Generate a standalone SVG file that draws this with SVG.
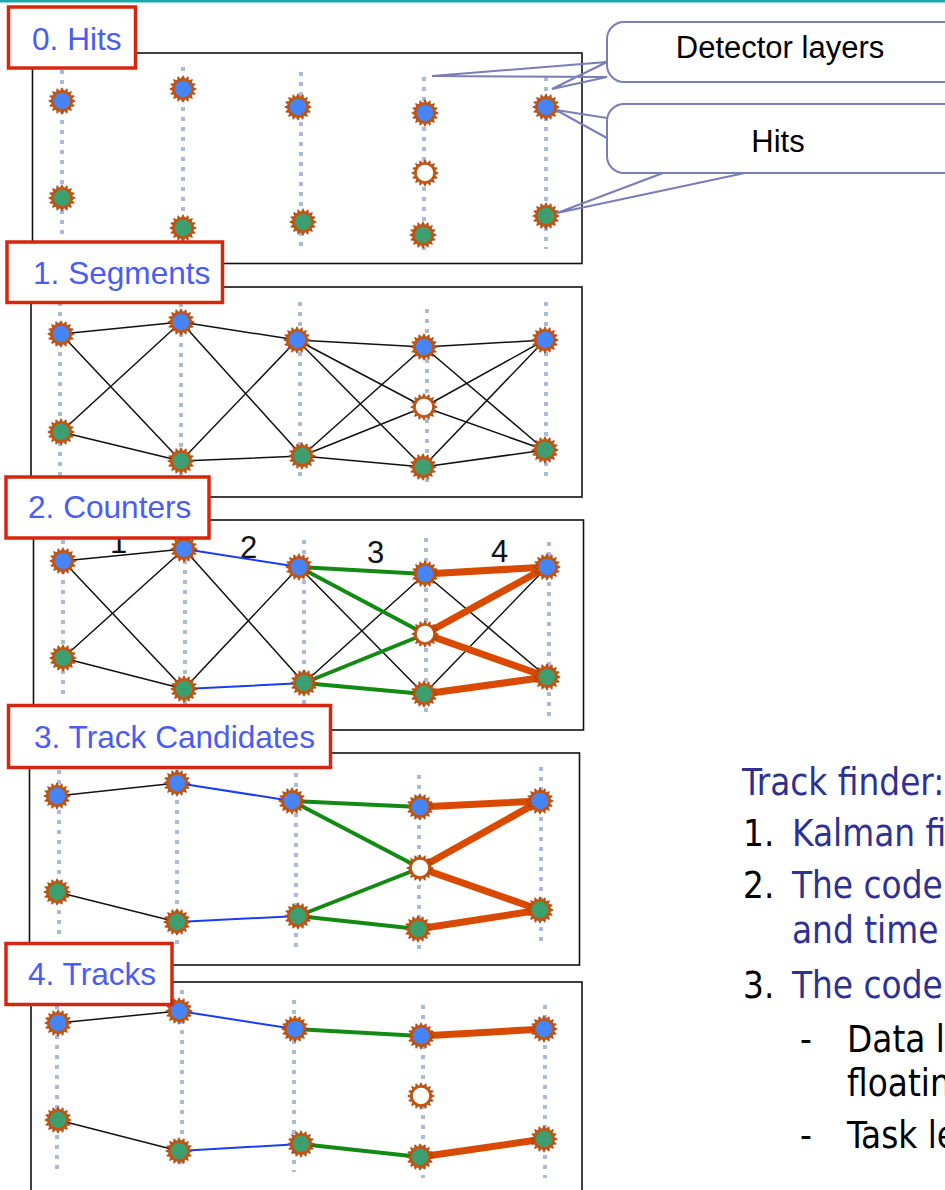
<svg xmlns="http://www.w3.org/2000/svg" xmlns:xlink="http://www.w3.org/1999/xlink" width="945" height="1190" viewBox="0 0 945 1190">
<style>
.frame{fill:none;stroke:#111;stroke-width:1.6}
.layer{stroke:#a9bbd6;stroke-width:4;stroke-dasharray:4 6;fill:none}
.lbl{fill:#fff;stroke:#d8260e;stroke-width:3.5}
.lt{font-family:"Liberation Sans",Arial,sans-serif;font-size:31.6px;fill:#4a5cf2}
.k{stroke:#111;stroke-width:1.5;fill:none}
.b{stroke:#1a3cf5;stroke-width:2;fill:none}
.g{stroke:#138a13;stroke-width:4;fill:none}
.o{stroke:#d94a00;stroke-width:7;fill:none;stroke-linecap:round}
.num{font-family:"Liberation Sans",Arial,sans-serif;font-size:31px;fill:#111}
.co{fill:#fff;stroke:#7a7db8;stroke-width:2}
.cl{stroke:#7a7db8;stroke-width:2;fill:none}
.ct{font-family:"Liberation Sans",Arial,sans-serif;font-size:31px;fill:#000;text-anchor:middle}
.rt{font-family:"DejaVu Sans Condensed","DejaVu Sans",Verdana,sans-serif;font-stretch:condensed;font-size:36.5px}
.bl{fill:#2e3192}
.bk{fill:#000}
</style>
<defs>
<polygon id="spk" fill="#c4550f" stroke="#9e3a06" stroke-width="0.7" points="13.3,0 9.6,1.9 12.3,5.1 8.1,5.4 9.4,9.4 5.4,8.1 5.1,12.3 1.9,9.6 0,13.3 -1.9,9.6 -5.1,12.3 -5.4,8.1 -9.4,9.4 -8.1,5.4 -12.3,5.1 -9.6,1.9 -13.3,0 -9.6,-1.9 -12.3,-5.1 -8.1,-5.4 -9.4,-9.4 -5.4,-8.1 -5.1,-12.3 -1.9,-9.6 0,-13.3 1.9,-9.6 5.1,-12.3 5.4,-8.1 9.4,-9.4 8.1,-5.4 12.3,-5.1 9.6,-1.9"/>
<g id="hb"><use href="#spk"/><circle r="8.2" fill="#4784f6"/></g>
<g id="hg"><use href="#spk"/><circle r="8.2" fill="#3d9e70"/></g>
<g id="he"><use href="#spk"/><circle r="8.2" fill="#fff"/></g>
</defs>
<rect x="0" y="0" width="945" height="1190" fill="#fff"/>
<rect x="0" y="0" width="945" height="2.5" fill="#1aa8a8"/>

<g id="frames">
<rect class="frame" x="32.5" y="53" width="549.5" height="210.5"/>
<rect class="frame" x="31" y="287" width="551" height="210"/>
<rect class="frame" x="33.5" y="520" width="550" height="210"/>
<rect class="frame" x="29.5" y="753" width="550" height="212"/>
<rect class="frame" x="31" y="982" width="551" height="230"/>
</g>
<g id="layers">
<line class="layer" x1="62" y1="70" x2="62" y2="240"/>
<line class="layer" x1="183" y1="67" x2="183" y2="245"/>
<line class="layer" x1="301" y1="72" x2="301" y2="248"/>
<line class="layer" x1="424" y1="77" x2="424" y2="250"/>
<line class="layer" x1="546" y1="77" x2="546" y2="249"/>

<line class="layer" x1="60" y1="302" x2="60" y2="478"/>
<line class="layer" x1="181" y1="303" x2="181" y2="478"/>
<line class="layer" x1="300" y1="302" x2="300" y2="477"/>
<line class="layer" x1="427" y1="309" x2="427" y2="482"/>
<line class="layer" x1="546" y1="302" x2="546" y2="477"/>

<line class="layer" x1="63" y1="540" x2="63" y2="700"/>
<line class="layer" x1="185" y1="540" x2="185" y2="705"/>
<line class="layer" x1="304" y1="540" x2="304" y2="706"/>
<line class="layer" x1="426" y1="538" x2="426" y2="712"/>
<line class="layer" x1="549" y1="542" x2="549" y2="717"/>

<line class="layer" x1="59" y1="770" x2="59" y2="940"/>
<line class="layer" x1="177" y1="770" x2="177" y2="945"/>
<line class="layer" x1="296" y1="773" x2="296" y2="950"/>
<line class="layer" x1="419" y1="775" x2="419" y2="950"/>
<line class="layer" x1="541" y1="767" x2="541" y2="943"/>

<line class="layer" x1="57" y1="1005" x2="57" y2="1170"/>
<line class="layer" x1="182" y1="990" x2="182" y2="1165"/>
<line class="layer" x1="294" y1="1000" x2="294" y2="1172"/>
<line class="layer" x1="423" y1="1005" x2="423" y2="1178"/>
<line class="layer" x1="545" y1="1005" x2="545" y2="1178"/>
</g>

<g id="counter-numbers">
<text class="num" x="110" y="553">1</text>
<text class="num" x="240" y="558">2</text>
<text class="num" x="367" y="563">3</text>
<text class="num" x="491" y="562">4</text>
</g>

<g id="connectors">
<path class="k" d="M61,334L181,322M61,334L181,461M61,432L181,322M61,432L181,461M181,322L297,340M181,322L302,456M181,461L297,340M181,461L302,456M297,340L424,347M297,340L424,407M297,340L423,467M302,456L424,347M302,456L424,407M302,456L423,467M424,347L545,340M424,347L545,450M424,407L545,340M424,407L545,450M423,467L545,340M423,467L545,450"/>
<path class="k" d="M63,561L184,549M63,561L184,689M63,658L184,549M63,658L184,689M184,549L304,683M184,689L299,567M299,567L424,694M304,683L425,574M425,574L547,677M424,694L547,567"/>
<path class="b" d="M184,549L299,567M184,689L304,683"/>
<path class="g" d="M299,567L425,574M299,567L425,634M304,683L425,634M304,683L424,694"/>
<path class="o" d="M425,574L547,567M425,634L547,567M425,634L547,677M424,694L547,677"/>
<path class="k" d="M57,796L177,783M57,892L177,922"/>
<path class="b" d="M177,783L292,801M177,922L298,916"/>
<path class="g" d="M292,801L420,807M292,801L420,868M298,916L420,868M298,916L418,929"/>
<path class="o" d="M420,807L540,801M420,868L540,801M420,868L540,910M418,929L540,910"/>
<path class="k" d="M58,1023L179,1011M58,1120L179,1151"/>
<path class="b" d="M179,1011L295,1029M179,1151L301,1144"/>
<path class="g" d="M295,1029L421,1036M301,1144L420,1157"/>
<path class="o" d="M421,1036L544,1029M420,1157L544,1139"/>
</g>

<g id="hits0">
<g id="h0-1b"><use href="#hb" x="62" y="101"/></g>
<g id="h0-1g"><use href="#hg" x="62" y="198"/></g>
<g id="h0-2b"><use href="#hb" x="183" y="89"/></g>
<g id="h0-2g"><use href="#hg" x="183" y="228"/></g>
<g id="h0-3b"><use href="#hb" x="298" y="107"/></g>
<g id="h0-3g"><use href="#hg" x="303" y="222"/></g>
<g id="h0-4b"><use href="#hb" x="425" y="113"/></g>
<g id="h0-4e"><use href="#he" x="425" y="173"/></g>
<g id="h0-4g"><use href="#hg" x="423" y="235"/></g>
<g id="h0-5b"><use href="#hb" x="546" y="107"/></g>
<g id="h0-5g"><use href="#hg" x="546" y="216"/></g>
</g>
<g id="hits1">
<g id="h1-1b"><use href="#hb" x="61" y="334"/></g>
<g id="h1-1g"><use href="#hg" x="61" y="432"/></g>
<g id="h1-2b"><use href="#hb" x="181" y="322"/></g>
<g id="h1-2g"><use href="#hg" x="181" y="461"/></g>
<g id="h1-3b"><use href="#hb" x="297" y="340"/></g>
<g id="h1-3g"><use href="#hg" x="302" y="456"/></g>
<g id="h1-4b"><use href="#hb" x="424" y="347"/></g>
<g id="h1-4e"><use href="#he" x="424" y="407"/></g>
<g id="h1-4g"><use href="#hg" x="423" y="467"/></g>
<g id="h1-5b"><use href="#hb" x="545" y="340"/></g>
<g id="h1-5g"><use href="#hg" x="545" y="450"/></g>
</g>
<g id="hits2">
<g id="h2-1b"><use href="#hb" x="63" y="561"/></g>
<g id="h2-1g"><use href="#hg" x="63" y="658"/></g>
<g id="h2-2b"><use href="#hb" x="184" y="549"/></g>
<g id="h2-2g"><use href="#hg" x="184" y="689"/></g>
<g id="h2-3b"><use href="#hb" x="299" y="567"/></g>
<g id="h2-3g"><use href="#hg" x="304" y="683"/></g>
<g id="h2-4b"><use href="#hb" x="425" y="574"/></g>
<g id="h2-4e"><use href="#he" x="425" y="634"/></g>
<g id="h2-4g"><use href="#hg" x="424" y="694"/></g>
<g id="h2-5b"><use href="#hb" x="547" y="567"/></g>
<g id="h2-5g"><use href="#hg" x="547" y="677"/></g>
</g>
<g id="hits3">
<g id="h3-1b"><use href="#hb" x="57" y="796"/></g>
<g id="h3-1g"><use href="#hg" x="57" y="892"/></g>
<g id="h3-2b"><use href="#hb" x="177" y="783"/></g>
<g id="h3-2g"><use href="#hg" x="177" y="922"/></g>
<g id="h3-3b"><use href="#hb" x="292" y="801"/></g>
<g id="h3-3g"><use href="#hg" x="298" y="916"/></g>
<g id="h3-4b"><use href="#hb" x="420" y="807"/></g>
<g id="h3-4e"><use href="#he" x="420" y="868"/></g>
<g id="h3-4g"><use href="#hg" x="418" y="929"/></g>
<g id="h3-5b"><use href="#hb" x="540" y="801"/></g>
<g id="h3-5g"><use href="#hg" x="540" y="910"/></g>
</g>
<g id="hits4">
<g id="h4-1b"><use href="#hb" x="58" y="1023"/></g>
<g id="h4-1g"><use href="#hg" x="58" y="1120"/></g>
<g id="h4-2b"><use href="#hb" x="179" y="1011"/></g>
<g id="h4-2g"><use href="#hg" x="179" y="1151"/></g>
<g id="h4-3b"><use href="#hb" x="295" y="1029"/></g>
<g id="h4-3g"><use href="#hg" x="301" y="1144"/></g>
<g id="h4-4b"><use href="#hb" x="421" y="1036"/></g>
<g id="h4-4e"><use href="#he" x="421" y="1096"/></g>
<g id="h4-4g"><use href="#hg" x="420" y="1157"/></g>
<g id="h4-5b"><use href="#hb" x="544" y="1029"/></g>
<g id="h4-5g"><use href="#hg" x="544" y="1139"/></g>
</g>

<g id="label0"><rect class="lbl" x="8.5" y="7" width="127" height="61"/><text class="lt" x="32" y="50">0. Hits</text></g>
<g id="label1"><rect class="lbl" x="7" y="242" width="215.5" height="60.5"/><text class="lt" x="33" y="284">1. Segments</text></g>
<g id="label2"><rect class="lbl" x="6" y="477" width="203" height="61"/><text class="lt" x="28" y="518">2. Counters</text></g>
<g id="label3"><rect class="lbl" x="8.5" y="705.5" width="322" height="62"/><text class="lt" x="34" y="748">3. Track Candidates</text></g>
<g id="label4"><rect class="lbl" x="6" y="943.5" width="166" height="61"/><text class="lt" x="28" y="985">4. Tracks</text></g>

<g id="callout-layers">
<rect class="co" x="607" y="22" width="360" height="60" rx="17"/>
<path class="cl" d="M607,62L432,76L607,77M607,62L552,89L607,77"/>
<text class="ct" x="780" y="58">Detector layers</text>
</g>
<g id="callout-hits">
<rect class="co" x="607" y="104" width="360" height="69" rx="17" stroke-width="3"/>
<path class="cl" d="M607,118L556,110L607,138M663,173L557,213L745,173"/>
<text class="ct" x="778" y="152">Hits</text>
</g>

<g id="right-text">
<text class="rt bl" x="742" y="795">Track finder:</text>
<text class="rt bk" x="743" y="846">1.</text><text class="rt bl" x="792" y="846">Kalman fi</text>
<text class="rt bk" x="743" y="898">2.</text><text class="rt bl" x="792" y="898">The code</text>
<text class="rt bl" x="792" y="943">and time</text>
<text class="rt bk" x="743" y="998">3.</text><text class="rt bl" x="792" y="998">The code</text>
<text class="rt bk" x="800" y="1052">-</text><text class="rt bk" x="847" y="1052">Data le</text>
<text class="rt bk" x="847" y="1096">floatin</text>
<text class="rt bk" x="800" y="1148">-</text><text class="rt bk" x="847" y="1148">Task le</text>
</g>
</svg>
